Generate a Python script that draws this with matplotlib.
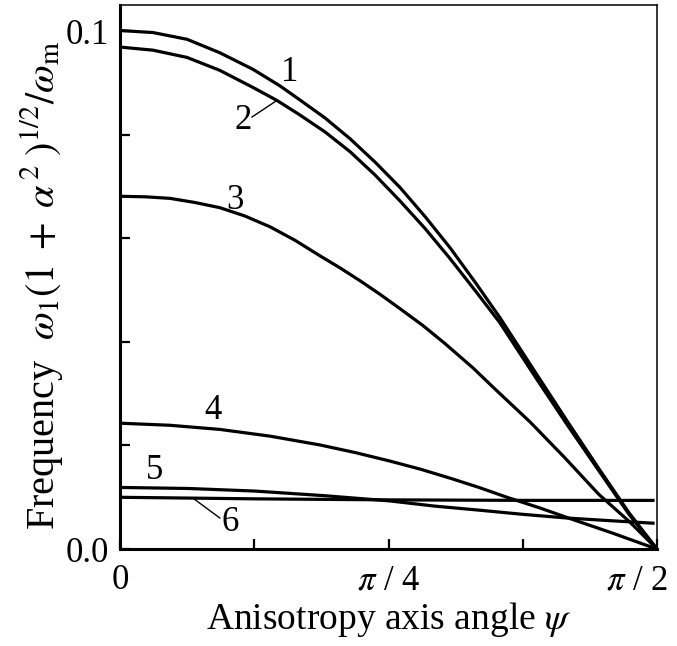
import numpy as np
import matplotlib
matplotlib.use("Agg")
import matplotlib.pyplot as plt
from matplotlib.transforms import offset_copy

# =========================
# DATA
# =========================

psi_1 = [0.0, 0.0965, 0.196, 0.292, 0.389, 0.468, 0.526, 0.600, 0.673, 0.746,
         0.819, 0.892, 0.965, 1.040, 1.111, 1.220, 1.310, 1.404, 1.490, np.pi / 2]
freq_1 = [0.1001, 0.0997, 0.0984, 0.0958, 0.0926, 0.0894, 0.0867, 0.0832, 0.0792, 0.0747,
          0.0698, 0.0642, 0.0582, 0.0514, 0.0447, 0.0336, 0.0245, 0.0152, 0.0069, 0.0]

psi_2 = [0.0, 0.0965, 0.196, 0.292, 0.389, 0.459, 0.526, 0.600, 0.673, 0.746,
         0.819, 0.892, 0.965, 1.040, 1.111, 1.220, 1.310, 1.404, 1.490, np.pi / 2]
freq_2 = [0.0969, 0.0963, 0.0949, 0.0924, 0.0891, 0.0866, 0.0838, 0.0805, 0.0767, 0.0722,
          0.0672, 0.0619, 0.0561, 0.0498, 0.0437, 0.0327, 0.0238, 0.0148, 0.0066, 0.0]

psi_3 = [0.0, 0.073, 0.146, 0.219, 0.292, 0.365, 0.439, 0.512, 0.585, 0.643, 0.702,
         0.760, 0.819, 0.885, 0.950, 1.032, 1.100, 1.200, 1.300, 1.400, 1.490, np.pi / 2]
freq_3 = [0.0681, 0.0680, 0.0677, 0.0669, 0.0659, 0.0643, 0.0622, 0.0596, 0.0566, 0.0543, 0.0518,
          0.0492, 0.0464, 0.0432, 0.0397, 0.0350, 0.0307, 0.0245, 0.0177, 0.0106, 0.0053, 0.0]

psi_4 = [0.0, 0.146, 0.292, 0.439, 0.585, 0.690, 0.789, 0.880, 0.965, 1.050,
         1.132, 1.230, 1.316, 1.440, np.pi / 2]
freq_4 = [0.0243, 0.0239, 0.0231, 0.0218, 0.0201, 0.0186, 0.0170, 0.0154, 0.0137, 0.0119,
          0.0100, 0.0079, 0.0059, 0.0031, 0.0]

psi_5 = [0.0, 0.200, 0.395, 0.600, 0.789, 0.920, 1.053, 1.180, 1.307, 1.430, 1.559]
freq_5 = [0.0119, 0.0117, 0.0112, 0.0103, 0.0093, 0.0083, 0.0075, 0.0067, 0.0060, 0.0055, 0.0050]

psi_6 = [0.0, 0.395, 0.789, 1.200, 1.559]
freq_6 = [0.0100, 0.0097, 0.0095, 0.0094, 0.0094]

curves = [
    (psi_1, freq_1),
    (psi_2, freq_2),
    (psi_3, freq_3),
    (psi_4, freq_4),
    (psi_5, freq_5),
    (psi_6, freq_6),
]

# curve number labels: (text, psi, freq)
curve_labels = [
    ("1", 0.497, 0.0919),
    ("2", 0.360, 0.0827),
    ("3", 0.336, 0.0672),
    ("4", 0.272, 0.0268),
    ("5", 0.102, 0.0152),
    ("6", 0.322, 0.0052),
]

# leader lines for labels 2 and 6
leaders = [
    ([0.386, 0.459], [0.0834, 0.0866]),
    ([0.214, 0.292], [0.0098, 0.0060]),
]

x_ticks = [0, np.pi / 8, np.pi / 4, 3 * np.pi / 8, np.pi / 2]
x_tick_labels = ["0", "", r"$\pi$ / 4", "", r"$\pi$ / 2"]

y_ticks = [0.0, 0.02, 0.04, 0.06, 0.08, 0.1]
y_tick_labels = ["0.0", "", "", "", "", "0.1"]

# =========================
# STYLE
# =========================

plt.rcParams["font.family"] = ["Liberation Serif", "DejaVu Serif"]
plt.rcParams["mathtext.fontset"] = "stix"

# =========================
# PLOT
# =========================

fig = plt.figure(figsize=(6.77, 6.46), dpi=100)
ax = fig.add_axes([0.1773, 0.150, 0.7932, 0.8421])

for psi, freq in curves:
    ax.plot(psi, freq, color="black", linewidth=2.3, solid_joinstyle="round")

for lx, ly in leaders:
    ax.plot(lx, ly, color="black", linewidth=1.0)

for text, px, py in curve_labels:
    ax.text(px, py, text, fontsize=25, ha="center", va="center")

ax.set_xlim(0, np.pi / 2)
ax.set_ylim(0, 0.105)

ax.set_xticks(x_ticks)
ax.set_xticklabels(x_tick_labels)
ax.set_yticks(y_ticks)
ax.set_yticklabels(y_tick_labels)

ax.tick_params(
    direction="in",
    length=7,
    width=1.6,
    labelsize=25
)
ax.tick_params(axis="x", pad=11)
ax.tick_params(axis="y", pad=8)

# last x label sits left of its tick, as in the source figure
last = ax.get_xticklabels()[-1]
last.set_transform(offset_copy(last.get_transform(), fig=fig, x=-20, y=0, units="dots"))

for side in ["left", "bottom"]:
    ax.spines[side].set_linewidth(2.2)
for side in ["right", "top"]:
    ax.spines[side].set_linewidth(1.1)

ax.set_xlabel("Anisotropy axis angle $\\psi$", fontsize=27, labelpad=2)
ax.set_ylabel(
    r"Frequency  $\omega_1(1\;+\;\alpha^{\,2}\;)^{1/2}/\omega_{\rm m}$",
    fontsize=29
)
ax.yaxis.set_label_coords(-0.102, 0.485)

plt.savefig("out.png", dpi=100)
plt.close()
